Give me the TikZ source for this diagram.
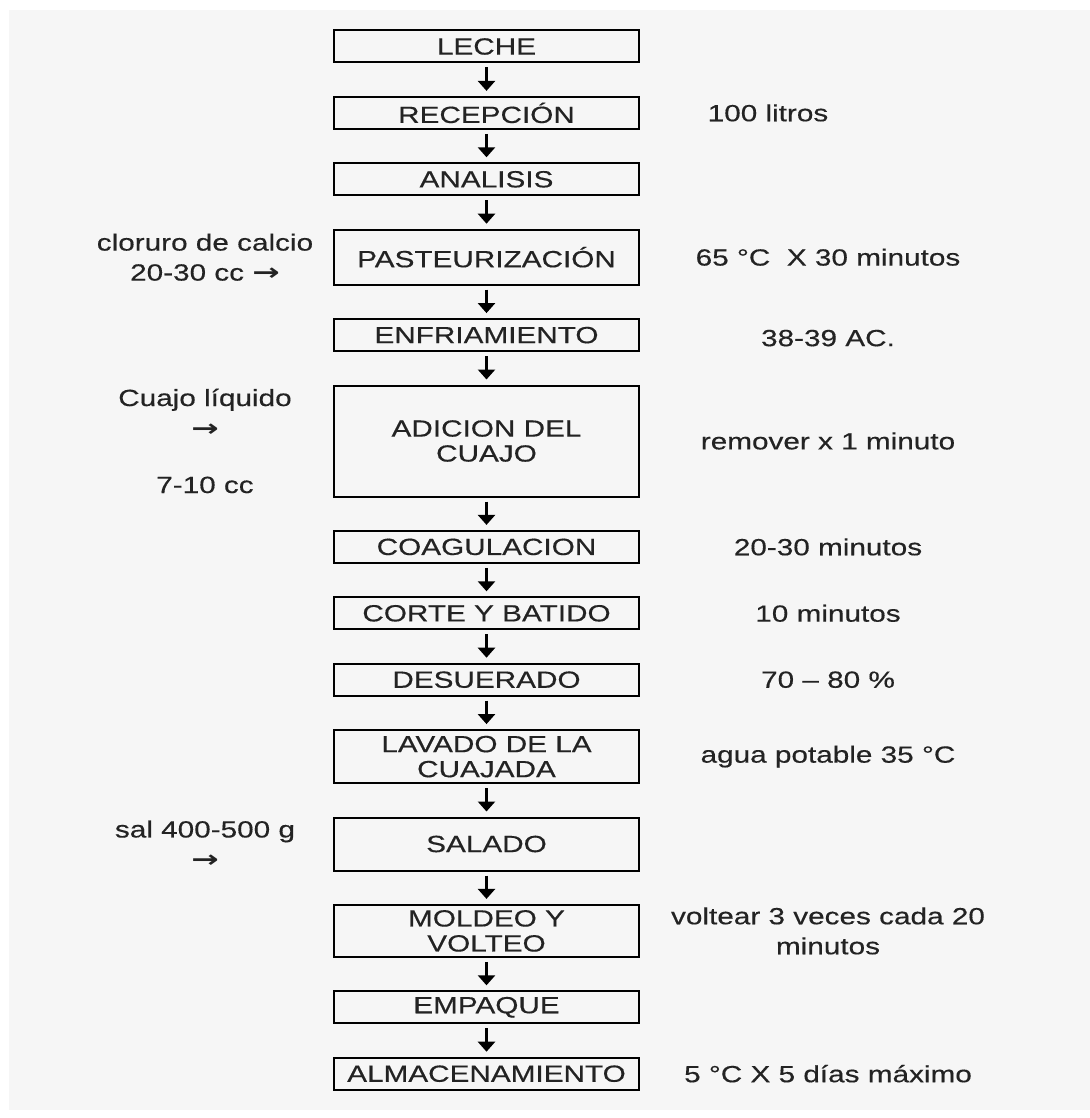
\documentclass[tikz,border=0pt]{standalone}
\usepackage{fontspec}
\setmainfont[FakeStretch=1.27,FakeBold=0.4]{Liberation Sans}
\newfontfamily\arrowfont[FakeStretch=1.4]{DejaVu Sans}
\usetikzlibrary{arrows.meta,positioning}
\definecolor{paper}{RGB}{246,246,246}
\definecolor{ink}{RGB}{35,35,35}
\newcommand{\toarrow}{{\arrowfont\bfseries →}}

\begin{document}
\begin{tikzpicture}[node distance=16.2pt,
    every node/.style={font=\fontsize{11.7}{15}\selectfont,text=ink},
    stage/.style={draw=black,line width=1pt,minimum width=152.5pt,minimum height=16pt,inner sep=1pt,align=center,font=\fontsize{11.7}{12.5}\selectfont},
    note/.style={align=center,inner sep=0pt},
    flow/.style={-{Triangle[length=5pt,width=8.5pt]},line width=1.3pt,shorten <=2pt,shorten >=2.5pt}]
  \useasboundingbox (0,0) rectangle (545pt,-559pt);
  \fill[paper] (4.5pt,-5pt) rectangle (545pt,-555pt);
  \coordinate (leftcol) at (102.5pt,0);
  \coordinate (notecol) at (414pt,0);
  % process steps
  \node[stage] (leche) at (243.25pt,-23.25pt) {LECHE};
  \node[stage,below=of leche] (recep) {RECEPCIÓN};
  \node[stage,below=of recep] (anal) {ANALISIS};
  \node[stage,below=of anal,minimum height=27.5pt] (paste) {PASTEURIZACIÓN};
  \node[stage,below=of paste] (enfr) {ENFRIAMIENTO};
  \node[stage,below=of enfr,minimum height=55.5pt] (adic) {ADICION DEL\\CUAJO};
  \node[stage,below=of adic] (coag) {COAGULACION};
  \node[stage,below=of coag] (corte) {CORTE Y BATIDO};
  \node[stage,below=of corte] (desue) {DESUERADO};
  \node[stage,below=of desue,minimum height=26.5pt] (lavado) {LAVADO DE LA\\CUAJADA};
  \node[stage,below=of lavado,minimum height=26.5pt] (salado) {SALADO};
  \node[stage,below=of salado,minimum height=26pt] (moldeo) {MOLDEO Y\\VOLTEO};
  \node[stage,below=of moldeo] (empaque) {EMPAQUE};
  \node[stage,below=of empaque] (almac) {ALMACENAMIENTO};
  \draw[flow] (leche) -- (recep);
  \draw[flow] (recep) -- (anal);
  \draw[flow] (anal) -- (paste);
  \draw[flow] (paste) -- (enfr);
  \draw[flow] (enfr) -- (adic);
  \draw[flow] (adic) -- (coag);
  \draw[flow] (coag) -- (corte);
  \draw[flow] (corte) -- (desue);
  \draw[flow] (desue) -- (lavado);
  \draw[flow] (lavado) -- (salado);
  \draw[flow] (salado) -- (moldeo);
  \draw[flow] (moldeo) -- (empaque);
  \draw[flow] (empaque) -- (almac);
  % inputs on the left
  \node[note] (calcio) at (paste -| leftcol) {cloruro de calcio\\20-30 cc \toarrow};
  \node[note] (cuajo) at (adic -| leftcol) {Cuajo líquido\\\toarrow\\[13.5pt]7-10 cc};
  \node[note] (sal) at (salado -| leftcol) {sal 400-500 g\\\toarrow};
  % conditions on the right
  \node[note,xshift=-30pt] (recepnote) at (recep -| notecol) {100 litros};
  \node[note] (pastenote) at (paste -| notecol) {65 °C\ \ X 30 minutos};
  \node[note,yshift=-1.5pt] (enfrnote) at (enfr -| notecol) {38-39 AC.};
  \node[note] (adicnote) at (adic -| notecol) {remover x 1 minuto};
  \node[note] (coagnote) at (coag -| notecol) {20-30 minutos};
  \node[note] (cortenote) at (corte -| notecol) {10 minutos};
  \node[note] (desuenote) at (desue -| notecol) {70 – 80 \%};
  \node[note] (lavadonote) at (lavado -| notecol) {agua potable 35 °C};
  \node[note] (moldeonote) at (moldeo -| notecol) {voltear 3 veces cada 20\\minutos};
  \node[note] (almacnote) at (almac -| notecol) {5 °C X 5 días máximo};
\end{tikzpicture}
\end{document}
